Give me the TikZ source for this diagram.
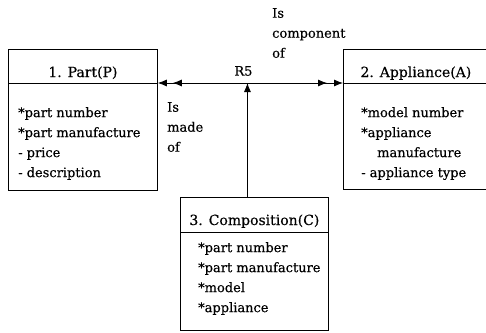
\documentclass[tikz,border=0pt]{standalone}
\usepackage{fontspec}
\setmainfont{DejaVu Serif}[FakeBold=0.3]
\usetikzlibrary{positioning,arrows.meta}

\tikzset{
  entity/.style={draw, line width=0.8pt, anchor=north west, inner sep=0pt},
  entname/.style={font=\fontsize{14}{16}\selectfont, inner sep=0pt, anchor=base},
  attrs/.style={font=\fontsize{13}{20}\selectfont, align=left, inner sep=0pt},
  relname/.style={font=\fontsize{13}{20}\selectfont, align=left, inner sep=0pt},
  rel/.style={draw, line width=0.8pt},
}

\begin{document}
\begin{tikzpicture}[x=1pt, y=-1pt]
\useasboundingbox (0,0) rectangle (486,332);
%entities
\node[entity, minimum width=149pt, minimum height=141pt](part) at (8,49){};
\node[entity, minimum width=145pt, minimum height=140pt](appliance) at (343,49){};
\node[entity, minimum width=148pt, minimum height=133pt](comp) at (180,197){};
\node[entname](partname) at ([yshift=-28pt]part.north){1. Part(P)};
\node[entname](appname) at ([yshift=-28pt]appliance.north){2. Appliance(A)};
\node[entname](compname) at ([yshift=-28pt]comp.north){3. Composition(C)};
%dividers
\coordinate (partsplit) at ([yshift=-34pt]part.north west);
\coordinate (appsplit) at ([yshift=-34pt]appliance.north west);
\coordinate (compsplit) at ([yshift=-35pt]comp.north west);
\path[draw, line width=0.8pt](partsplit)--(partsplit -| part.east);
\path[draw, line width=0.8pt](appsplit)--(appsplit -| appliance.east);
\path[draw, line width=0.8pt](compsplit)--(compsplit -| comp.east);
%attributes
\node[attrs, below right=24pt and 10pt of partsplit](partattrs){*part number\\*part manufacture\\- price\\- description};
\node[attrs, below right=24pt and 18pt of appsplit](appattrs){*model number\\*appliance\\\hspace*{16pt}manufacture\\- appliance type};
\node[attrs, below right=10pt and 18pt of compsplit](compattrs){*part number\\*part manufacture\\*model\\*appliance};
%relationship R5, two heads at each end
\path[rel, {Latex[length=9pt,width=7pt]}-{Latex[length=9pt,width=7pt]}](partsplit -| part.east)--(appsplit) coordinate[pos=0.484](r5);
\path[rel, {Latex[length=9pt,width=7pt]}-{Latex[length=9pt,width=7pt]}, shorten <=15pt, shorten >=16pt](partsplit -| part.east)--(appsplit);
\node[relname, above=7pt of r5, xshift=-4pt](r5name){R5};
\path[rel, -{Latex[length=9pt,width=7pt]}](r5 |- comp.north)--(r5);
\node[relname, anchor=north west](madeof) at (167,102){Is\\made\\of};
\node[relname, anchor=north west](componentof) at (272,8){Is\\component\\of};
\end{tikzpicture}
\end{document}
